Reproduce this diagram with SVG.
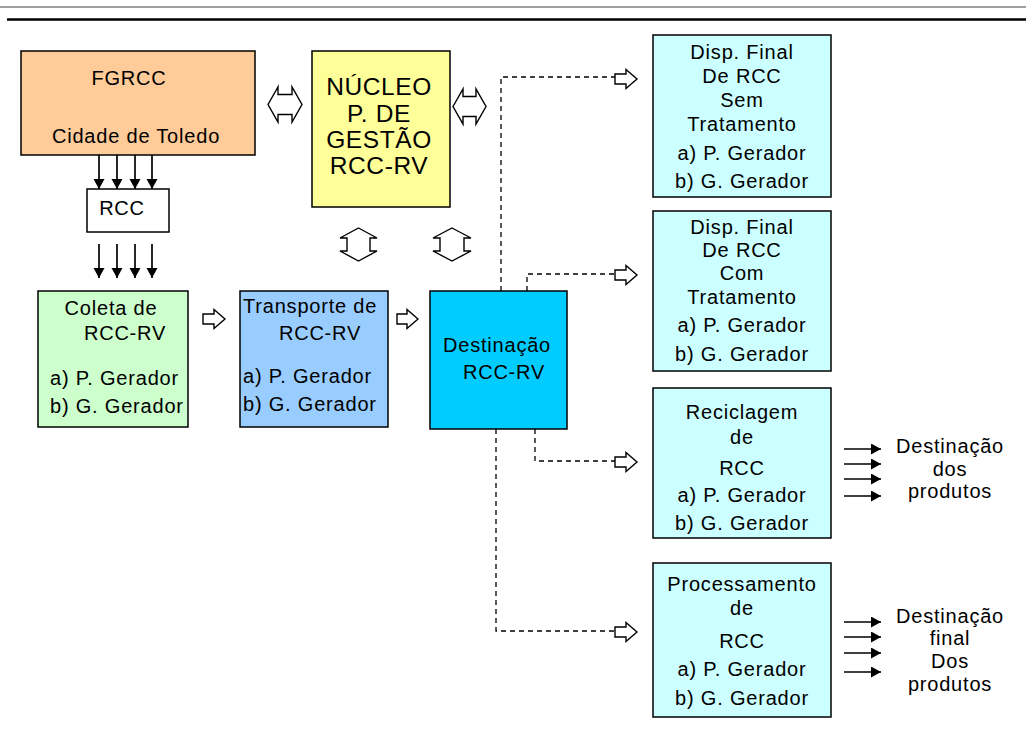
<svg xmlns="http://www.w3.org/2000/svg" width="1026" height="736" viewBox="0 0 1026 736">
<defs>
<style>
.box{stroke:#000;stroke-width:1.5}
text{font-family:"Liberation Sans",Arial,sans-serif;font-size:20px;fill:#000;letter-spacing:0.8px}
.c{text-anchor:middle}
.big{font-size:24.5px;letter-spacing:0.6px}
.dash{fill:none;stroke:#000;stroke-width:1.3;stroke-dasharray:5,4}
.hollow{fill:#fff;stroke:#000;stroke-width:1.4;stroke-linejoin:miter}
.solid{stroke:#000;stroke-width:1.7;fill:none}
</style>
<marker id="ah" markerUnits="userSpaceOnUse" markerWidth="12" markerHeight="12" refX="10" refY="5.5" orient="auto">
<path d="M0,0 L10,5.5 L0,11 Z" fill="#000"/>
</marker>
</defs>
<rect width="1026" height="736" fill="#fff"/>
<line x1="0" y1="7" x2="1026" y2="7" stroke="#808080" stroke-width="1.5"/>
<line x1="7" y1="19.5" x2="1026" y2="19.5" stroke="#000" stroke-width="2.6"/>

<g id="fgrcc">
<rect class="box" x="21" y="51" width="234" height="104" fill="#FFCC99"/>
<text class="c" x="129" y="85">FGRCC</text>
<text class="c" x="136" y="143">Cidade de Toledo</text>
</g>
<g id="rcc">
<rect class="box" x="87" y="189" width="82" height="43" fill="#fff"/>
<text class="c" x="122" y="215">RCC</text>
</g>
<g id="nucleo">
<rect class="box" x="312" y="51" width="138" height="156" fill="#FFFF99"/>
<text class="c big" x="379" y="95">NÚCLEO</text>
<text class="c big" x="379" y="122">P. DE</text>
<text class="c big" x="379" y="148">GESTÃO</text>
<text class="c big" x="379" y="174">RCC-RV</text>
</g>
<g id="coleta">
<rect class="box" x="38" y="291" width="150" height="136" fill="#CCFFCC"/>
<text class="c" x="111" y="315">Coleta de</text>
<text class="c" x="125" y="340">RCC-RV</text>
<text x="50" y="385">a) P. Gerador</text>
<text x="50" y="413">b) G. Gerador</text>
</g>
<g id="transporte">
<rect class="box" x="240" y="291" width="148" height="136" fill="#99CCFF"/>
<text x="243" y="313">Transporte de</text>
<text class="c" x="320" y="340">RCC-RV</text>
<text x="243" y="383">a) P. Gerador</text>
<text x="243" y="411">b) G. Gerador</text>
</g>
<g id="destinacao">
<rect class="box" x="430" y="291" width="137" height="138" fill="#00CCFF"/>
<text class="c" x="497" y="352">Destinação</text>
<text class="c" x="504" y="379">RCC-RV</text>
</g>
<g id="disp-sem">
<rect class="box" x="653" y="35" width="178" height="162" fill="#CCFFFF"/>
<text class="c" x="742" y="59">Disp. Final</text>
<text class="c" x="742" y="83">De RCC</text>
<text class="c" x="742" y="107">Sem</text>
<text class="c" x="742" y="131">Tratamento</text>
<text class="c" x="742" y="160">a) P. Gerador</text>
<text class="c" x="742" y="188">b) G. Gerador</text>
</g>
<g id="disp-com">
<rect class="box" x="653" y="211" width="178" height="160" fill="#CCFFFF"/>
<text class="c" x="742" y="234">Disp. Final</text>
<text class="c" x="742" y="257">De RCC</text>
<text class="c" x="742" y="280">Com</text>
<text class="c" x="742" y="304">Tratamento</text>
<text class="c" x="742" y="332">a) P. Gerador</text>
<text class="c" x="742" y="361">b) G. Gerador</text>
</g>
<g id="reciclagem">
<rect class="box" x="653" y="388" width="178" height="150" fill="#CCFFFF"/>
<text class="c" x="742" y="419">Reciclagem</text>
<text class="c" x="742" y="444">de</text>
<text class="c" x="742" y="475">RCC</text>
<text class="c" x="742" y="502">a) P. Gerador</text>
<text class="c" x="742" y="530">b) G. Gerador</text>
</g>
<g id="processamento">
<rect class="box" x="653" y="563" width="178" height="154" fill="#CCFFFF"/>
<text class="c" x="742" y="591">Processamento</text>
<text class="c" x="742" y="615">de</text>
<text class="c" x="742" y="648">RCC</text>
<text class="c" x="742" y="676">a) P. Gerador</text>
<text class="c" x="742" y="705">b) G. Gerador</text>
</g>
<g id="label-produtos">
<text class="c" x="950" y="453">Destinação</text>
<text class="c" x="950" y="476">dos</text>
<text class="c" x="950" y="498">produtos</text>
</g>
<g id="label-final">
<text class="c" x="950" y="623">Destinação</text>
<text class="c" x="950" y="645">final</text>
<text class="c" x="950" y="668">Dos</text>
<text class="c" x="950" y="691">produtos</text>
</g>

<g id="connectors">
<line class="solid" x1="99" y1="155" x2="99" y2="189" marker-end="url(#ah)"/>
<line class="solid" x1="117" y1="155" x2="117" y2="189" marker-end="url(#ah)"/>
<line class="solid" x1="135" y1="155" x2="135" y2="189" marker-end="url(#ah)"/>
<line class="solid" x1="152" y1="155" x2="152" y2="189" marker-end="url(#ah)"/>
<line class="solid" x1="99" y1="244" x2="99" y2="278" marker-end="url(#ah)"/>
<line class="solid" x1="117" y1="244" x2="117" y2="278" marker-end="url(#ah)"/>
<line class="solid" x1="135" y1="244" x2="135" y2="278" marker-end="url(#ah)"/>
<line class="solid" x1="152" y1="244" x2="152" y2="278" marker-end="url(#ah)"/>
<line class="solid" x1="844" y1="449" x2="881" y2="449" marker-end="url(#ah)"/>
<line class="solid" x1="844" y1="464" x2="881" y2="464" marker-end="url(#ah)"/>
<line class="solid" x1="844" y1="479" x2="881" y2="479" marker-end="url(#ah)"/>
<line class="solid" x1="844" y1="496" x2="881" y2="496" marker-end="url(#ah)"/>
<line class="solid" x1="844" y1="622" x2="881" y2="622" marker-end="url(#ah)"/>
<line class="solid" x1="844" y1="637" x2="881" y2="637" marker-end="url(#ah)"/>
<line class="solid" x1="844" y1="653" x2="881" y2="653" marker-end="url(#ah)"/>
<line class="solid" x1="844" y1="672" x2="881" y2="672" marker-end="url(#ah)"/>
<path class="dash" d="M501,291 V77 H615"/>
<path class="dash" d="M527,291 V274 H615"/>
<path class="dash" d="M535,429 V461 H615"/>
<path class="dash" d="M496,429 V631 H615"/>
<path class="hollow" d="M615,74 H626 V69.5 L637,79 L626,88.5 V84 H615 Z"/>
<path class="hollow" d="M615,270 H626 V265.5 L637,275 L626,284.5 V280 H615 Z"/>
<path class="hollow" d="M615,457 H626 V452.5 L637,462 L626,471.5 V467 H615 Z"/>
<path class="hollow" d="M615,627 H626 V622.5 L637,632 L626,641.5 V637 H615 Z"/>
<path class="hollow" d="M203,314 H214 V309.5 L225,319 L214,328.5 V324 H203 Z"/>
<path class="hollow" d="M397,314 H407 V309.5 L418,319 L407,328.5 V324 H397 Z"/>
<path class="hollow" d="M268,104.5 L278,87 V94.5 H292 V87 L302,104.5 L292,122 V114.5 H278 V122 Z"/>
<path class="hollow" d="M453,106.5 L463,89 V96.5 H476 V89 L486,106.5 L476,124 V116.5 H463 V124 Z"/>
<path class="hollow" d="M358.5,228 L377,238 H370 V251 H377 L358.5,261 L340,251 H347 V238 H340 Z"/>
<path class="hollow" d="M452,228 L471,238 H464 V251 H471 L452,261 L433,251 H440 V238 H433 Z"/>
</g>
</svg>
